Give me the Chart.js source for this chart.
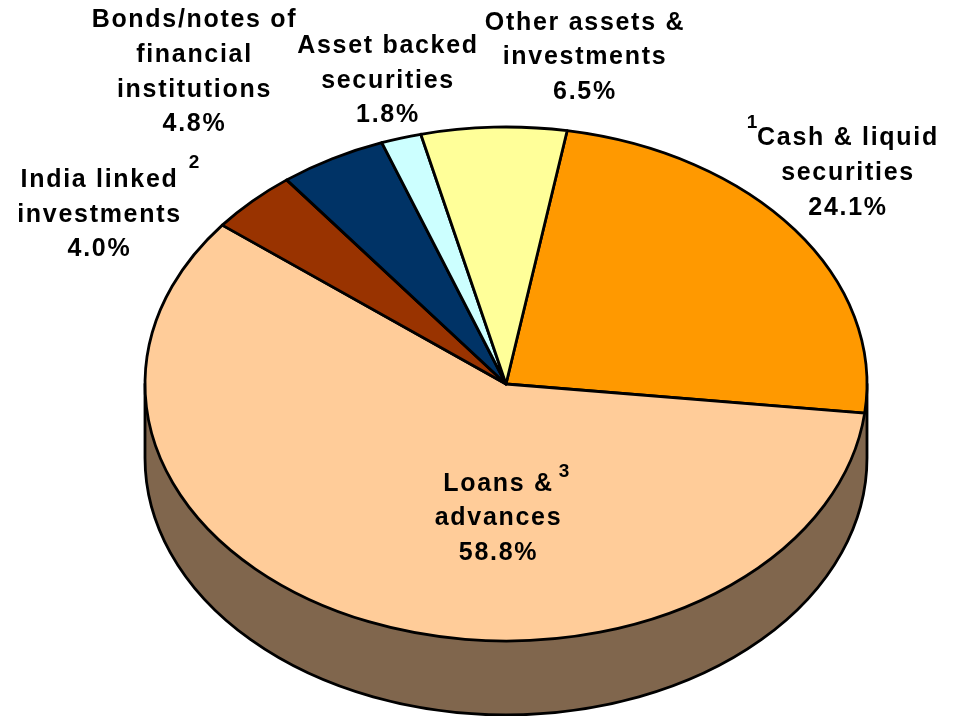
<!DOCTYPE html>
<html>
<head>
<meta charset="utf-8">
<style>html,body{margin:0;padding:0;background:#fff;overflow:hidden}canvas{display:block}</style>
<script src="https://cdn.jsdelivr.net/npm/chart.js@4"></script>
</head>
<body>
<canvas id="c" width="955" height="716"></canvas>
<script>
const categories = ["Cash & liquid securities","Loans & advances","India linked investments","Bonds/notes of financial institutions","Asset backed securities","Other assets & investments"];
const shares = [24.1, 58.8, 4.0, 4.8, 1.8, 6.5];
const noteMarks = ["1","3","2","","",""];
const labelLines = [
  ["Cash & liquid","securities","24.1%"],
  ["Loans &","advances","58.8%"],
  ["India linked","investments","4.0%"],
  ["Bonds/notes of","financial","institutions","4.8%"],
  ["Asset backed","securities","1.8%"],
  ["Other assets &","investments","6.5%"]
];
const sliceColors = ["#FF9900","#FFCC99","#993300","#003366","#CCFFFF","#FFFF99"];

// Presentation geometry (not data)
const PIE = {cx:506, cy:384, rx:361, ry:257, depth:74, rotation:9.75, side:"#80664D", line:2.8};
const PLACE = [
  {x:848, y:[145,180,215], sx:752, sy:128},
  {x:498.5, y:[491,525,560], sx:564, sy:477},
  {x:99.5, y:[187,222,256], sx:194, sy:168},
  {x:194.5, y:[27,62,97,131]},
  {x:388, y:[53,88,122]},
  {x:585, y:[30,64,99]}
];

const elliptical = {
  id:"elliptical",
  beforeDatasetsDraw(chart){
    const ctx = chart.ctx, arc = chart.getDatasetMeta(0).data[0];
    const r = arc.outerRadius;
    ctx.save();
    // side wall
    ctx.beginPath();
    ctx.ellipse(PIE.cx, PIE.cy+PIE.depth, PIE.rx, PIE.ry, 0, 0, Math.PI);
    ctx.lineTo(PIE.cx-PIE.rx, PIE.cy);
    ctx.lineTo(PIE.cx+PIE.rx, PIE.cy);
    ctx.closePath();
    ctx.fillStyle = PIE.side;
    ctx.fill();
    ctx.lineWidth = PIE.line;
    ctx.lineJoin = "round";
    ctx.strokeStyle = "#000";
    ctx.stroke();
    // flatten the circular pie into the top ellipse, keeping strokes even
    ctx.translate(PIE.cx, PIE.cy);
    ctx.scale(PIE.rx/r, PIE.ry/r);
    ctx.translate(-arc.x, -arc.y);
    const origStroke = ctx.stroke;
    ctx.stroke = function(){
      const t = ctx.getTransform();
      ctx.setTransform(1,0,0,1,0,0);
      origStroke.call(ctx);
      ctx.setTransform(t);
    };
  },
  afterDatasetsDraw(chart){
    const ctx = chart.ctx;
    delete ctx.stroke;
    ctx.restore();
    ctx.save();
    ctx.fillStyle = "#000";
    ctx.textBaseline = "alphabetic";
    ctx.textAlign = "center";
    labelLines.forEach((lines,i)=>{
      const p = PLACE[i];
      ctx.letterSpacing = "1.7px";
      ctx.font = 'bold 25px "Liberation Sans"';
      lines.forEach((t,j)=>ctx.fillText(t, p.x, p.y[j]));
      if(noteMarks[i]){
        ctx.letterSpacing = "0px";
        ctx.font = 'bold 19px "Liberation Sans"';
        ctx.fillText(noteMarks[i], p.sx, p.sy);
      }
    });
    ctx.restore();
  }
};

new Chart(document.getElementById("c"),{
  type:"pie",
  data:{labels:categories,datasets:[{
    data:shares,
    backgroundColor:sliceColors,
    borderColor:"#000",
    borderWidth:PIE.line,
    borderAlign:"center",
    borderJoinStyle:"round",
    hoverOffset:0,
    clip:false
  }]},
  options:{
    responsive:false,
    animation:false,
    rotation:PIE.rotation,
    events:[],
    plugins:{legend:{display:false},tooltip:{enabled:false}}
  },
  plugins:[elliptical]
});
</script>
</body>
</html>
